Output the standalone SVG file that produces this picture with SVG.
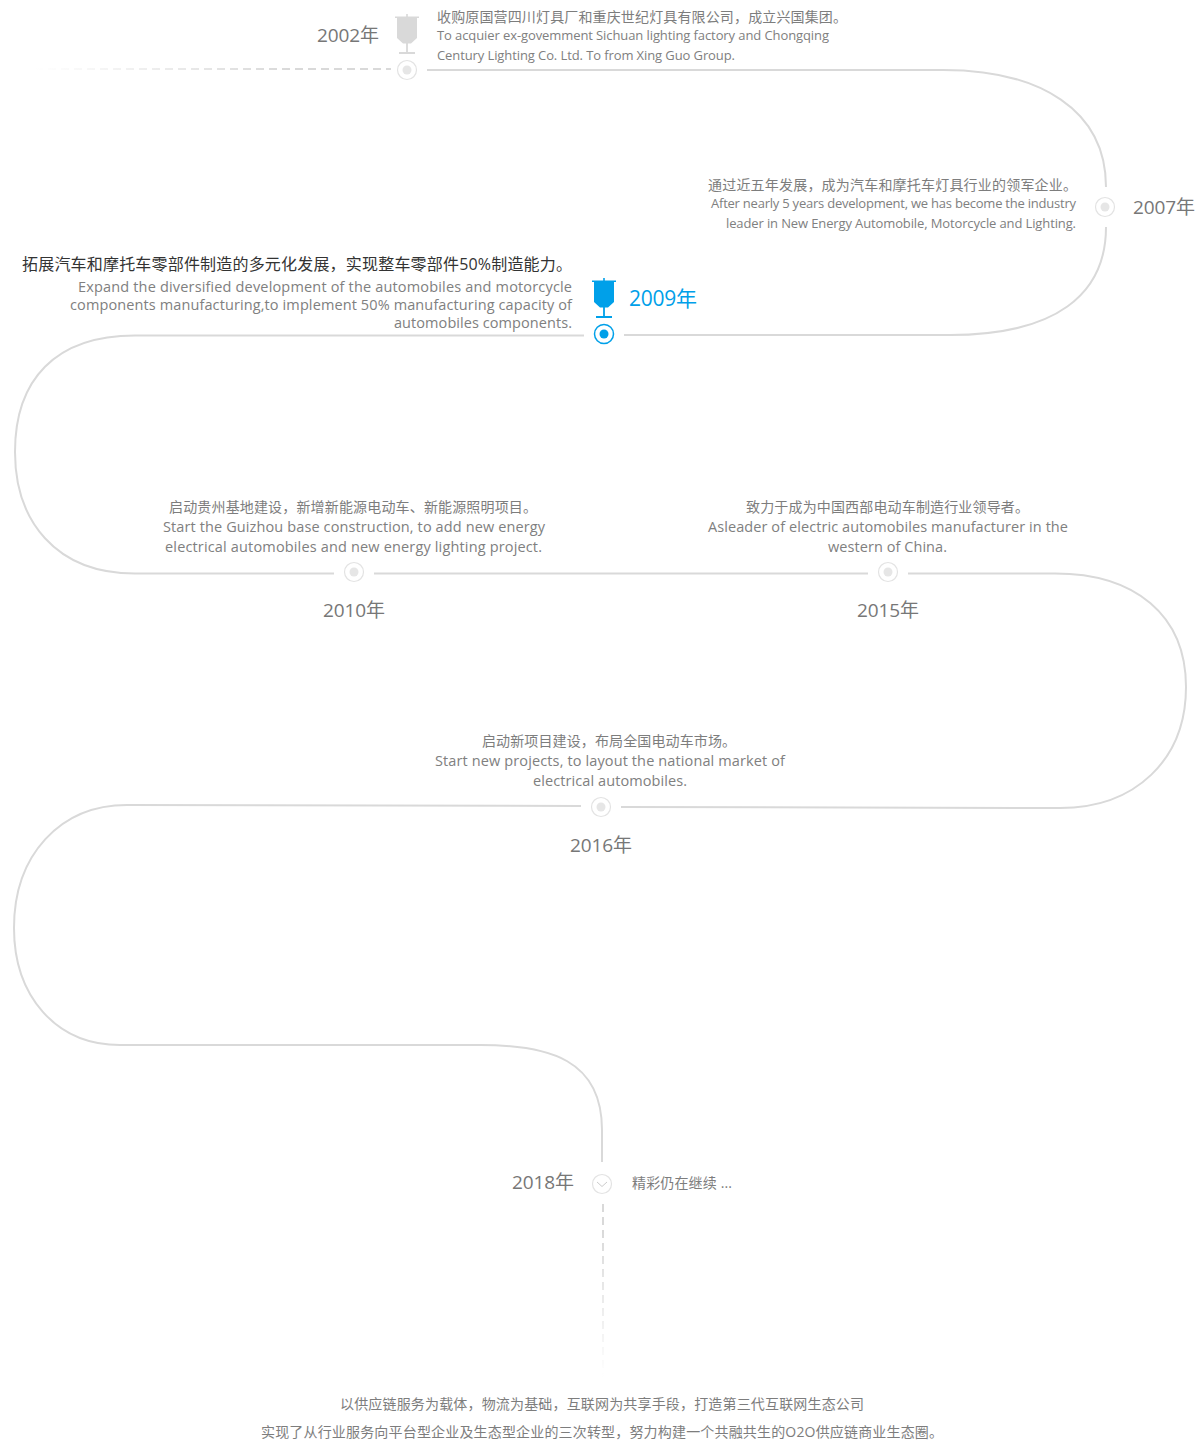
<svg xmlns="http://www.w3.org/2000/svg" width="1202" height="1454" viewBox="0 0 1202 1454">
<style>
text{font-family:"Open Sans","Noto Sans CJK SC",sans-serif;fill:#777}
.y{font-size:19px;fill:#777}
.c{font-size:14px;fill:#7d7d7d}
.e{font-size:13px;fill:#808080}
.m{font-size:14.500px;fill:#808080}
.l{fill:none;stroke:#d9d9d9;stroke-width:2}
.o{fill:#fff;stroke:#e3e3e3;stroke-width:1.200}
.i{fill:#e6e6e6}
</style>
<defs>
<linearGradient id="fh" gradientUnits="userSpaceOnUse" x1="35" y1="0" x2="290" y2="0"><stop offset="0" stop-color="#d9d9d9" stop-opacity="0"/><stop offset="1" stop-color="#d9d9d9"/></linearGradient>
<linearGradient id="fv" gradientUnits="userSpaceOnUse" x1="0" y1="1230" x2="0" y2="1378"><stop offset="0" stop-color="#d9d9d9"/><stop offset="1" stop-color="#d9d9d9" stop-opacity="0"/></linearGradient>
<symbol id="cup" viewBox="0 0 24 40" overflow="visible"><path d="M11.200 0h1.600v2.500H24v1.500h-2V24l-6 5.500h-3.100V38H20v2H4v-2h7.100v-8.500H8L2 24V4H0V2.500h11.200z"/></symbol>
</defs>
<g id="connectors">
<path d="M35 69H391" fill="none" stroke="url(#fh)" stroke-width="2" stroke-dasharray="8 5"/>
<path class="l" d="M427 70H943C1040 70 1106 110 1106 187"/>
<path class="l" d="M1106 227C1106 295 1055 335 950 335H624"/>
<path class="l" d="M584 335.500H135C55 335.500 15 380 15 452C15 520 55 573.500 135 573.500H334"/>
<path class="l" d="M374 573.500H868"/>
<path class="l" d="M908 573.500H1055C1135 573.500 1186 615 1186 687C1186 760 1135 808 1060 808L621 807"/>
<path class="l" d="M581 806L127 805C60 805 14 855 14 928C14 995 55 1045 120 1045H480C550 1045 602 1060 602 1130V1162"/>
<path d="M603 1204V1378" fill="none" stroke="url(#fv)" stroke-width="2" stroke-dasharray="8 5"/>
</g>
<g id="node-2002">
<text class="y" x="317" y="42" textLength="62">2002年</text>
<use href="#cup" x="395" y="14" width="24" height="40" fill="#d9d9d9"/>
<circle class="o" cx="407" cy="70" r="9.500"/><circle class="i" cx="407" cy="70" r="4.500"/>
<text class="c" x="437" y="22" textLength="410">收购原国营四川灯具厂和重庆世纪灯具有限公司，成立兴国集团。</text>
<text class="e" x="437" y="40" textLength="392">To acquier ex-govemment Sichuan lighting factory and Chongqing</text>
<text class="e" x="437" y="60" textLength="298">Century Lighting Co. Ltd. To from Xing Guo Group.</text>
</g>
<g id="node-2007">
<circle class="o" cx="1105" cy="207" r="9.500"/><circle class="i" cx="1105" cy="207" r="4.500"/>
<text class="y" x="1133" y="214" textLength="62">2007年</text>
<text class="c" x="708" y="190" textLength="369">通过近五年发展，成为汽车和摩托车灯具行业的领军企业。</text>
<text class="e" x="711" y="208" textLength="365">After nearly 5 years development, we has become the industry</text>
<text class="e" x="726" y="228" textLength="350">leader in New Energy Automobile, Motorcycle and Lighting.</text>
</g>
<g id="node-2009">
<use href="#cup" x="592" y="278" width="24" height="40" fill="#00a0e9"/>
<circle cx="604" cy="334" r="9.500" fill="#fff" stroke="#00a0e9" stroke-width="1.500"/><circle cx="604" cy="334" r="4.500" fill="#00a0e9"/>
<text x="629" y="305.500" textLength="68" style="font-size:21px;fill:#00a0e9">2009年</text>
<text x="22" y="270" textLength="550" style="font-size:16px;fill:#333">拓展汽车和摩托车零部件制造的多元化发展，实现整车零部件50%制造能力。</text>
<text class="m" x="78" y="292" textLength="494">Expand the  diversified development of the automobiles and motorcycle</text>
<text class="m" x="70" y="310" textLength="502">components manufacturing,to implement 50% manufacturing capacity of</text>
<text class="m" x="394" y="328" textLength="178">automobiles components.</text>
</g>
<g id="node-2010">
<circle class="o" cx="354" cy="572" r="9.500"/><circle class="i" cx="354" cy="572" r="4.500"/>
<text class="y" x="323" y="617" textLength="62">2010年</text>
<text class="c" x="169" y="512" textLength="368">启动贵州基地建设，新增新能源电动车、新能源照明项目。</text>
<text class="m" x="163" y="532" textLength="382">Start the Guizhou base construction, to add new energy</text>
<text class="m" x="165" y="552" textLength="377">electrical automobiles and new energy lighting project.</text>
</g>
<g id="node-2015">
<circle class="o" cx="888" cy="572" r="9.500"/><circle class="i" cx="888" cy="572" r="4.500"/>
<text class="y" x="857" y="617" textLength="62">2015年</text>
<text class="c" x="746" y="512" textLength="283">致力于成为中国西部电动车制造行业领导者。</text>
<text class="m" x="708" y="532" textLength="360">Asleader of electric automobiles manufacturer in the</text>
<text class="m" x="828" y="552" textLength="119">western of China.</text>
</g>
<g id="node-2016">
<circle class="o" cx="601" cy="807" r="9.500"/><circle class="i" cx="601" cy="807" r="4.500"/>
<text class="y" x="570" y="852" textLength="62">2016年</text>
<text class="c" x="482" y="746" textLength="254">启动新项目建设，布局全国电动车市场。</text>
<text class="m" x="435" y="766" textLength="350">Start new projects, to layout the national market of</text>
<text class="m" x="533" y="786" textLength="154">electrical automobiles.</text>
</g>
<g id="node-2018">
<circle class="o" cx="602" cy="1184" r="9.500"/>
<path d="M597 1182l5 4.500 5-4.500" fill="none" stroke="#ccc" stroke-width="1"/>
<text class="y" x="512" y="1189" textLength="62">2018年</text>
<text class="c" x="632" y="1188" textLength="100">精彩仍在继续 ...</text>
</g>
<g id="summary">
<text class="c" x="340" y="1409" textLength="524">以供应链服务为载体，物流为基础，互联网为共享手段，打造第三代互联网生态公司</text>
<text class="c" x="261" y="1437" textLength="682">实现了从行业服务向平台型企业及生态型企业的三次转型，努力构建一个共融共生的O2O供应链商业生态圈。</text>
</g>
</svg>
